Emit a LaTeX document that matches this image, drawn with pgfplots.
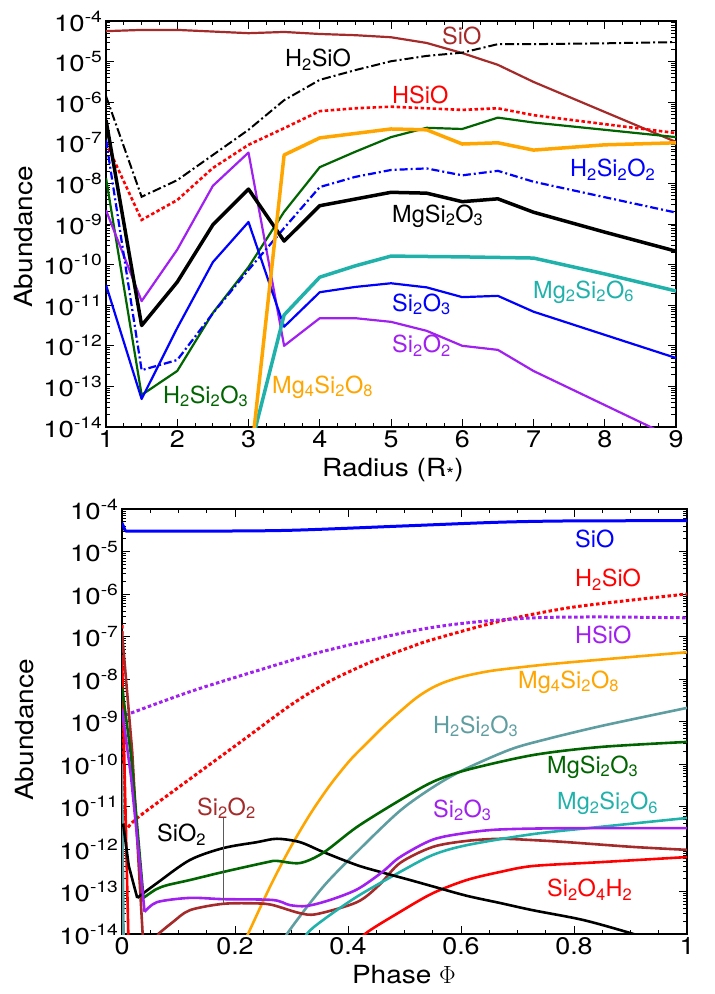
\documentclass[border=0pt]{standalone}
\usepackage{fontspec}
\setmainfont{TeX Gyre Heros}
\newfontfamily\ytickfam[FakeStretch=1.2]{TeX Gyre Heros}
\newfontfamily\xtickfam[FakeStretch=1.12]{TeX Gyre Heros}
\newfontfamily\axlabfam[FakeStretch=1.12]{TeX Gyre Heros}
\usepackage{pgfplots}
\pgfplotsset{compat=1.18}
\definecolor{cbrown}{HTML}{A52A2A}
\definecolor{cred}{HTML}{FF0000}
\definecolor{corange}{HTML}{FFA500}
\definecolor{cgreen}{HTML}{006400}
\definecolor{cblue}{HTML}{0000FF}
\definecolor{cpurple}{HTML}{A020F0}
\definecolor{cteal}{HTML}{20B2AA}
\definecolor{ccadet}{HTML}{5F9EA0}
\definecolor{cgray}{HTML}{5A5A5A}
\newcommand{\lf}{\fontsize{23.5}{26}\selectfont}
\newcommand{\sub}[1]{\textsubscript{#1}}
\tikzset{labnode/.style={anchor=base west, inner sep=0pt, font=\lf}}
\begin{document}
\begin{tikzpicture}
\path[use as bounding box] (0,0) rectangle (715pt,994pt);
% ---------------- top panel ----------------
\begin{axis}[scale only axis, ymode=log, ymin=1e-14, ymax=1e-4,
    ytick={1e-14,1e-13,1e-12,1e-11,1e-10,1e-9,1e-8,1e-7,1e-6,1e-5,1e-4},
    yticklabels={10\textsuperscript{-14},10\textsuperscript{-13},10\textsuperscript{-12},10\textsuperscript{-11},10\textsuperscript{-10},10\textsuperscript{-9},10\textsuperscript{-8},10\textsuperscript{-7},10\textsuperscript{-6},10\textsuperscript{-5},10\textsuperscript{-4}},
    tick align=inside,
    major tick length=8pt, minor tick length=4.5pt,
    tick style={black, line width=0.8pt},
    axis line style={line width=1.3pt},
    yticklabel style={font=\ytickfam\fontsize{23}{25}\selectfont},
    xticklabel style={font=\xtickfam\fontsize{24}{26}\selectfont},
    label style={font=\axlabfam\fontsize{25}{27}\selectfont},
    minor x tick num=3,
  at={(106pt,567pt)}, anchor=south west,
  width=570pt, height=406pt,
  xmin=1, xmax=9, xtick={1,2,3,4,5,6,7,8,9}, xticklabels={1,2,3,4,5,6,7,8,9},
  xlabel={Radius (R\textsubscript{*})}, ylabel={Abundance},
  xlabel style={at={(axis description cs:0.5035,0)}, anchor=center, yshift=-43pt},
  ylabel style={at={(axis description cs:-0.144,0.468)}, anchor=center}]
% SiO
\addplot[cbrown, line width=2.2pt, line join=round] coordinates {(1,5.62e-5)(1.5,6.03e-5)(2,6.03e-5)(2.5,5.50e-5)(3,5.01e-5)(3.5,5.37e-5)(4,4.79e-5)(4.5,4.47e-5)(5,3.98e-5)(5.5,2.88e-5)(6,1.62e-5)(6.5,8.32e-6)(7,3.16e-6)(8,5.75e-7)(9,1.05e-7)};
% H2SiO
\addplot[black, line width=2pt, dash pattern=on 9pt off 3pt on 2pt off 3pt] coordinates {(1,1.41e-6)(1.5,4.68e-9)(2,1.20e-8)(2.5,5.01e-8)(3,2.09e-7)(3.5,1.12e-6)(4,3.55e-6)(4.5,6.17e-6)(5,1.02e-5)(5.5,1.38e-5)(6,1.66e-5)(6.5,2.69e-5)(7,2.69e-5)(8,2.82e-5)(9,3.02e-5)};
% HSiO
\addplot[cred, line width=2.6pt, dash pattern=on 3.5pt off 2.5pt] coordinates {(1,1.0e-7)(1.5,1.26e-9)(2,3.89e-9)(2.5,2.40e-8)(3,8.91e-8)(3.5,2.29e-7)(4,6.03e-7)(4.5,7.08e-7)(5,7.76e-7)(5.5,7.08e-7)(6,6.46e-7)(6.5,7.08e-7)(7,4.79e-7)(8,2.88e-7)(9,1.74e-7)};
% H2Si2O3
\addplot[cgreen, line width=2.2pt, line join=round] coordinates {(1,1.35e-8)(1.5,6.17e-14)(2,2.40e-13)(2.5,6.46e-12)(3,8.71e-11)(3.5,2.0e-9)(4,2.51e-8)(4.5,6.03e-8)(5,1.38e-7)(5.5,2.34e-7)(6,2.19e-7)(6.5,4.17e-7)(7,3.16e-7)(8,2.09e-7)(9,1.38e-7)};
% Si2O2
\addplot[cpurple, line width=2.2pt, line join=round] coordinates {(1,2.19e-9)(1.5,1.26e-11)(2,2.34e-10)(2.5,8.71e-9)(3,5.75e-8)(3.5,1.0e-12)(4,4.79e-12)(4.5,4.79e-12)(5,3.89e-12)(5.5,2.34e-12)(6,1.0e-12)(6.5,7.94e-13)(7,2.40e-13)(8,3.47e-14)(9,5.01e-15)};
% Si2O3
\addplot[cblue, line width=2.2pt, line join=round] coordinates {(1,3.16e-11)(1.5,4.90e-14)(2,2.75e-12)(2.5,1.15e-10)(3,1.12e-9)(3.5,2.95e-12)(4,2.09e-11)(4.5,2.82e-11)(5,3.47e-11)(5.5,2.75e-11)(6,1.58e-11)(6.5,1.70e-11)(7,6.92e-12)(8,1.86e-12)(9,5.01e-13)};
% H2Si2O2
\addplot[cblue, line width=2.2pt, dash pattern=on 8pt off 3pt on 2pt off 3pt] coordinates {(1,1.17e-7)(1.5,2.51e-13)(2,4.47e-13)(2.5,6.31e-12)(3,7.41e-11)(3.5,7.94e-10)(4,8.13e-9)(4.5,1.45e-8)(5,2.14e-8)(5.5,2.34e-8)(6,1.58e-8)(6.5,2.04e-8)(7,1.10e-8)(8,4.57e-9)(9,1.91e-9)};
% MgSi2O3
\addplot[black, line width=3.5pt, line join=round] coordinates {(1,3.63e-7)(1.5,3.16e-12)(2,3.72e-11)(2.5,9.55e-10)(3,7.24e-9)(3.5,3.80e-10)(4,2.82e-9)(5,6.03e-9)(5.5,5.75e-9)(6,3.55e-9)(6.5,4.17e-9)(7,1.95e-9)(8,6.31e-10)(9,2.14e-10)};
% Mg2Si2O6
\addplot[cteal, line width=3.5pt, line join=round] coordinates {(3,2.0e-15)(3.5,5.75e-12)(4,4.90e-11)(4.5,9.33e-11)(5,1.62e-10)(6,1.55e-10)(7,1.45e-10)(8,5.89e-11)(9,2.24e-11)};
% Mg4Si2O8
\addplot[corange, line width=3.5pt, line join=round] coordinates {(3,5.0e-16)(3.5,5.01e-8)(4,1.32e-7)(5,2.19e-7)(5.5,2.09e-7)(6,9.33e-8)(6.5,1.0e-7)(7,6.61e-8)(8,8.91e-8)(9,1.0e-7)};
% labels
\node[labnode, text=cbrown] at (rel axis cs:0.5895,0.9409) {SiO};
\node[labnode, text=black] at (rel axis cs:0.3140,0.8867) {H\sub{2}SiO};
\node[labnode, text=cred] at (rel axis cs:0.5018,0.7980) {HSiO};
\node[labnode, text=cblue] at (rel axis cs:0.8140,0.6158) {H\sub{2}Si\sub{2}O\sub{2}};
\node[labnode, text=black] at (rel axis cs:0.5018,0.5049) {MgSi\sub{2}O\sub{3}};
\node[labnode, text=cteal] at (rel axis cs:0.7491,0.3177) {Mg\sub{2}Si\sub{2}O\sub{6}};
\node[labnode, text=cblue] at (rel axis cs:0.5018,0.2857) {Si\sub{2}O\sub{3}};
\node[labnode, text=cpurple] at (rel axis cs:0.5018,0.1823) {Si\sub{2}O\sub{2}};
\node[labnode, text=cgreen] at (rel axis cs:0.1000,0.0591) {H\sub{2}Si\sub{2}O\sub{3}};
\node[labnode, text=corange] at (rel axis cs:0.2912,0.0837) {Mg\sub{4}Si\sub{2}O\sub{8}};
\end{axis}
% ---------------- bottom panel ----------------
\begin{axis}[scale only axis, ymode=log, ymin=1e-14, ymax=1e-4,
    ytick={1e-14,1e-13,1e-12,1e-11,1e-10,1e-9,1e-8,1e-7,1e-6,1e-5,1e-4},
    yticklabels={10\textsuperscript{-14},10\textsuperscript{-13},10\textsuperscript{-12},10\textsuperscript{-11},10\textsuperscript{-10},10\textsuperscript{-9},10\textsuperscript{-8},10\textsuperscript{-7},10\textsuperscript{-6},10\textsuperscript{-5},10\textsuperscript{-4}},
    tick align=inside,
    major tick length=8pt, minor tick length=4.5pt,
    tick style={black, line width=0.8pt},
    axis line style={line width=1.3pt},
    yticklabel style={font=\ytickfam\fontsize{23}{25}\selectfont},
    xticklabel style={font=\xtickfam\fontsize{24}{26}\selectfont},
    label style={font=\axlabfam\fontsize{25}{27}\selectfont},
    minor x tick num=3,
  at={(122pt,60pt)}, anchor=south west,
  width=565pt, height=425pt,
  xmin=0, xmax=1, xtick={0,0.2,0.4,0.6,0.8,1}, xticklabels={0,0.2,0.4,0.6,0.8,1},
  xlabel={Phase $\Phi$}, ylabel={Abundance},
  xlabel style={at={(axis description cs:0.499,0)}, anchor=center, yshift=-41pt},
  ylabel style={at={(axis description cs:-0.173,0.48)}, anchor=center}]
% SiO
\addplot[cblue, line width=3pt] coordinates {(0,4.68e-5)(0.006,3.02e-5)};
\addplot[cblue, line width=3pt, smooth] coordinates {(0.006,3.02e-5)(0.15,3.02e-5)(0.3,3.16e-5)(0.5,4.0e-5)(0.67,4.9e-5)(0.8,5.25e-5)(1,5.3e-5)};
% H2SiO
\addplot[cred, line width=3pt, dash pattern=on 3.5pt off 2.5pt] coordinates {(0,1.86e-7)(0.004,2.51e-12)};
\addplot[cred, line width=3pt, dash pattern=on 3.5pt off 2.5pt, smooth] coordinates {(0.004,2.51e-12)(0.027,5.37e-12)(0.1,2.82e-11)(0.214,3.63e-10)(0.3,2.51e-9)(0.368,8.91e-9)(0.444,2.63e-8)(0.51,5.62e-8)(0.55,8.51e-8)(0.669,2.29e-7)(0.788,4.68e-7)(0.904,7.24e-7)(1,1.0e-6)};
% HSiO
\addplot[cpurple, line width=3pt, dash pattern=on 3.5pt off 2.5pt] coordinates {(0,3.16e-9)(0.006,1.41e-9)};
\addplot[cpurple, line width=3pt, dash pattern=on 3.5pt off 2.5pt, smooth] coordinates {(0.006,1.41e-9)(0.12,5.01e-9)(0.24,1.58e-8)(0.356,4.47e-8)(0.51,1.32e-7)(0.61,2.09e-7)(0.73,2.75e-7)(0.85,2.88e-7)(1,2.75e-7)};
% Mg4Si2O8
\addplot[corange, line width=2.6pt, smooth] coordinates {(0.215,5.75e-15)(0.223,1e-14)(0.263,1.38e-13)(0.297,1.02e-12)(0.333,6.61e-12)(0.368,3.16e-11)(0.403,1.20e-10)(0.434,3.16e-10)(0.47,9.33e-10)(0.51,2.75e-9)(0.53,4.37e-9)(0.55,6.31e-9)(0.57,8.32e-9)(0.59,1.02e-8)(0.61,1.20e-8)(0.64,1.45e-8)(0.669,1.66e-8)(0.75,2.19e-8)(0.85,2.88e-8)(1,4.27e-8)};
% H2Si2O3
\addplot[ccadet, line width=2.6pt] coordinates {(0,1e-10)(0.003,3.98e-15)};
\addplot[ccadet, line width=2.6pt, smooth] coordinates {(0.28,3.98e-15)(0.292,1e-14)(0.356,1.29e-13)(0.421,1e-12)(0.492,7.94e-12)(0.55,2.82e-11)(0.604,7.24e-11)(0.687,2.19e-10)(0.75,3.80e-10)(0.85,7.94e-10)(1,2.09e-9)};
% Si2O4H2
\addplot[cred, line width=2.6pt] coordinates {(0,3.16e-8)(0.012,3.16e-15)};
\addplot[cred, line width=2.6pt, smooth] coordinates {(0.42,5.01e-15)(0.43,1e-14)(0.492,3.31e-14)(0.55,9.12e-14)(0.61,1.86e-13)(0.669,2.88e-13)(0.727,3.98e-13)(0.846,4.90e-13)(1,6.46e-13)};
% Si2O2
\addplot[cbrown, line width=2.6pt, line join=round] coordinates {(0,1.26e-7)(0.018,2.0e-10)(0.037,7.94e-15)(0.05,1e-15)(0.064,1e-14)};
\addplot[cbrown, line width=2.6pt, smooth] coordinates {(0.064,1e-14)(0.09,1.91e-14)(0.12,3.63e-14)(0.179,5.13e-14)(0.239,5.25e-14)(0.267,4.79e-14)(0.315,3.09e-14)(0.345,2.95e-14)(0.416,5.62e-14)(0.455,1.41e-13)(0.492,4.68e-13)(0.55,1.12e-12)(0.61,1.55e-12)(0.669,1.74e-12)(0.727,1.62e-12)(0.788,1.45e-12)(0.904,1.12e-12)(1,9.55e-13)};
% Mg2Si2O6
\addplot[cteal, line width=2.6pt, smooth] coordinates {(0.315,3.98e-15)(0.327,1e-14)(0.356,2.14e-14)(0.416,7.59e-14)(0.492,2.88e-13)(0.55,7.24e-13)(0.61,1.23e-12)(0.727,2.24e-12)(0.846,3.31e-12)(1,5.37e-12)};
% SiO2
\addplot[black, line width=2.6pt, line join=round] coordinates {(0.002,3.98e-12)(0.012,3.98e-13)(0.027,7.08e-14)};
\addplot[black, line width=2.6pt, smooth] coordinates {(0.027,7.08e-14)(0.062,1.58e-13)(0.12,5.50e-13)(0.179,1.05e-12)(0.239,1.45e-12)(0.274,1.74e-12)(0.315,1.45e-12)(0.356,8.51e-13)(0.416,4.17e-13)(0.46,2.82e-13)(0.51,1.86e-13)(0.55,1.32e-13)(0.61,7.94e-14)(0.669,5.37e-14)(0.727,3.63e-14)(0.816,2.14e-14)(0.9,1.05e-14)(0.95,6.31e-15)};
% MgSi2O3
\addplot[cgreen, line width=2.6pt, line join=round] coordinates {(0,6.46e-9)(0.016,1.58e-10)(0.038,7.08e-14)};
\addplot[cgreen, line width=2.6pt, smooth] coordinates {(0.038,7.08e-14)(0.06,1.12e-13)(0.08,1.41e-13)(0.12,1.86e-13)(0.179,2.88e-13)(0.257,4.90e-13)(0.274,5.25e-13)(0.315,4.68e-13)(0.356,8.13e-13)(0.416,3.31e-12)(0.492,1.41e-11)(0.55,3.80e-11)(0.61,7.24e-11)(0.727,1.62e-10)(0.846,2.51e-10)(1,3.31e-10)};
% Si2O3
\addplot[cpurple, line width=2.6pt, line join=round] coordinates {(0,2.0e-9)(0.016,5.01e-11)(0.04,3.31e-14)};
\addplot[cpurple, line width=2.6pt, smooth] coordinates {(0.04,3.31e-14)(0.062,5.62e-14)(0.12,7.08e-14)(0.179,6.61e-14)(0.267,6.31e-14)(0.297,4.79e-14)(0.327,4.57e-14)(0.368,6.31e-14)(0.416,1.12e-13)(0.46,2.82e-13)(0.492,6.46e-13)(0.55,1.66e-12)(0.61,2.40e-12)(0.669,2.88e-12)(0.788,3.09e-12)(1,3.09e-12)};
% pointer for Si2O2
\addplot[cgray, line width=0.8pt] coordinates {(0.179,5.37e-12)(0.179,5.37e-14)};
% labels
\node[labnode, text=cblue] at (rel axis cs:0.8018,0.9106) {SiO};
\node[labnode, text=cred] at (rel axis cs:0.8018,0.8165) {H\sub{2}SiO};
\node[labnode, text=cpurple] at (rel axis cs:0.8018,0.6824) {HSiO};
\node[labnode, text=corange] at (rel axis cs:0.7009,0.5788) {Mg\sub{4}Si\sub{2}O\sub{8}};
\node[labnode, text=ccadet] at (rel axis cs:0.5504,0.4729) {H\sub{2}Si\sub{2}O\sub{3}};
\node[labnode, text=cgreen] at (rel axis cs:0.7522,0.3788) {MgSi\sub{2}O\sub{3}};
\node[labnode, text=cteal] at (rel axis cs:0.7699,0.2918) {Mg\sub{2}Si\sub{2}O\sub{6}};
\node[labnode, text=cpurple] at (rel axis cs:0.5504,0.2753) {Si\sub{2}O\sub{3}};
\node[labnode, text=cred] at (rel axis cs:0.7522,0.0871) {Si\sub{2}O\sub{4}H\sub{2}};
\node[labnode, text=black] at (rel axis cs:0.0619,0.2165) {SiO\sub{2}};
\node[labnode, text=cbrown] at (rel axis cs:0.1327,0.2800) {Si\sub{2}O\sub{2}};
\end{axis}
\end{tikzpicture}
\end{document}
